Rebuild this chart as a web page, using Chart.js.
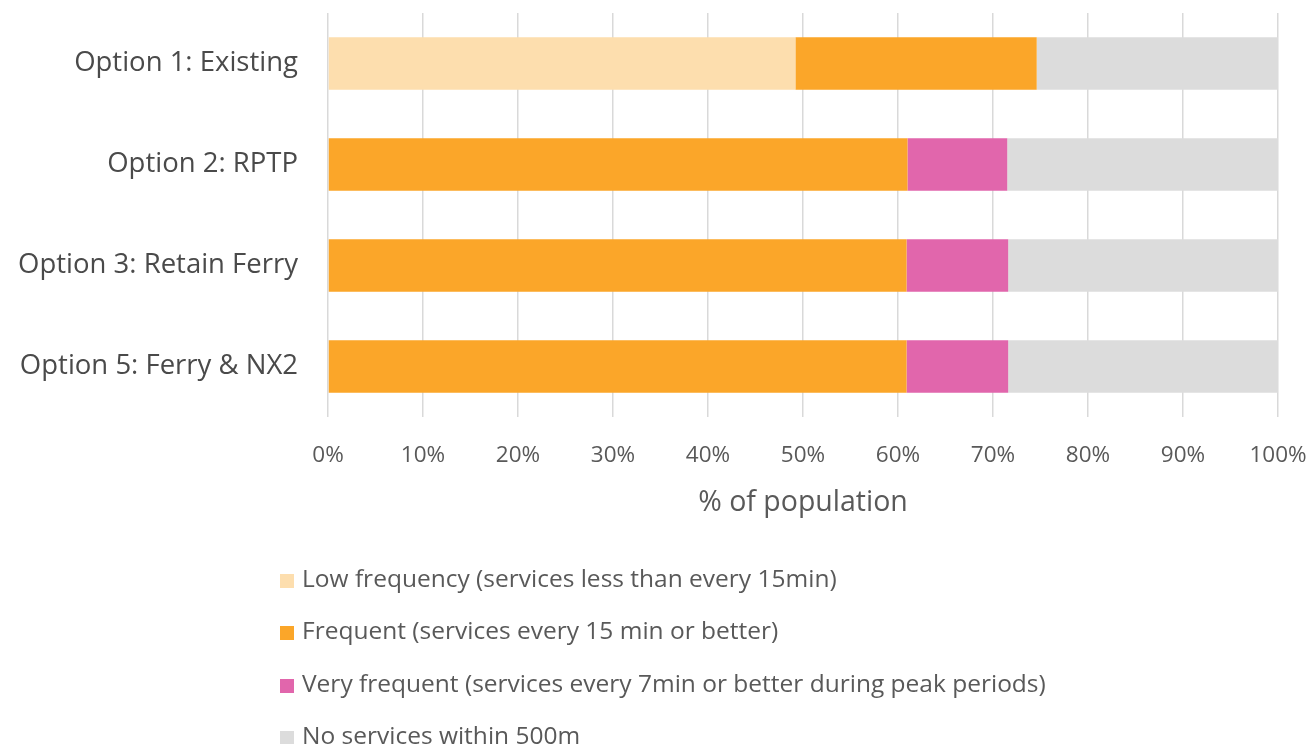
<!DOCTYPE html>
<html>
<head>
<meta charset="utf-8">
<script src="https://cdn.jsdelivr.net/npm/chart.js@4"></script>
<style>
  html, body { margin: 0; padding: 0; background: #fff; }
  #wrap { position: relative; width: 1312px; height: 744px; overflow: hidden; }
  #legend { position: absolute; left: 280px; top: 552px; font-family: "Open Sans", "Noto Sans", sans-serif; font-size: 24.5px; color: #595959; }
  #legend div { height: 52.3px; line-height: 52px; white-space: nowrap; }
  #legend span.box { display: inline-block; width: 14px; height: 14px; margin-right: 8px; vertical-align: -1px; }
</style>
</head>
<body>
<div id="wrap">
  <canvas id="c" width="1312" height="744"></canvas>
  <div id="legend"></div>
</div>
<script>
// data
const options = ['Option 1: Existing', 'Option 2: RPTP', 'Option 3: Retain Ferry', 'Option 5: Ferry & NX2'];
const lowFreq = [49.2, 0, 0, 0];
const frequent = [25.4, 61.0, 60.9, 60.9];
const veryFrequent = [0, 10.5, 10.7, 10.7];
const noService = [25.4, 28.5, 28.4, 28.4];
const seriesNames = [
  'Low frequency (services less than every 15min)',
  'Frequent (services every 15 min or better)',
  'Very frequent (services every 7min or better during peak periods)',
  'No services within 500m'
];
const seriesColors = ['#FDDEAE', '#FBA629', '#E166AC', '#DCDCDC'];

const font = '"Open Sans", "Noto Sans", sans-serif';

const chart = new Chart(document.getElementById('c'), {
  type: 'bar',
  data: {
    labels: options,
    datasets: [lowFreq, frequent, veryFrequent, noService].map((d, i) => ({
      label: seriesNames[i],
      data: d,
      backgroundColor: seriesColors[i],
      borderWidth: 0,
      barPercentage: 0.52,
      categoryPercentage: 1
    }))
  },
  options: {
    indexAxis: 'y',
    responsive: false,
    animation: false,
    layout: { padding: { top: 13, right: 34, bottom: 224, left: 0 } },
    plugins: { legend: { display: false }, tooltip: { enabled: false } },
    scales: {
      x: {
        stacked: true,
        min: 0, max: 100,
        border: { display: false },
        grid: { color: '#D9D9D9', lineWidth: 1.5, drawTicks: false },
        ticks: {
          stepSize: 10, padding: 25, color: '#595959',
          font: { family: font, size: 22.5 },
          callback: v => v + '%'
        },
        title: {
          display: true, text: '% of population', color: '#595959',
          font: { family: font, size: 28.5 }, padding: { top: 0, bottom: 0 }
        },
        afterFit: s => { s.paddingLeft = 0; s.paddingRight = 0; s.height = 103; }
      },
      y: {
        stacked: true,
        border: { display: false },
        grid: { display: false, drawTicks: false },
        ticks: { padding: 30, color: '#4a4a4a', font: { family: font, size: 27.5 } },
        afterFit: s => { s.width = 328; s.paddingTop = 0; s.paddingBottom = 0; }
      }
    }
  }
});

// legend as a vertical list under the chart
const leg = document.getElementById('legend');
chart.data.datasets.forEach(ds => {
  const row = document.createElement('div');
  const box = document.createElement('span');
  box.className = 'box';
  box.style.background = ds.backgroundColor;
  row.appendChild(box);
  row.appendChild(document.createTextNode(ds.label));
  leg.appendChild(row);
});
</script>
</body>
</html>
